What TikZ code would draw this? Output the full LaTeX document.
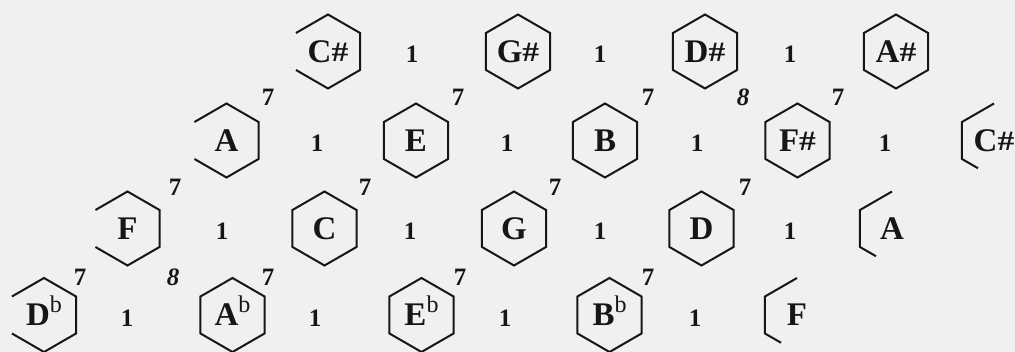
\documentclass[tikz,border=0pt]{standalone}
\usepackage{fontspec}
\setmainfont{Liberation Serif}
\usepackage{graphicx}
\definecolor{paper}{RGB}{240,240,238}
\definecolor{ink}{RGB}{22,22,22}
\newcommand\shp{\raisebox{0.5pt}{\fontsize{28}{28}\selectfont\scalebox{1.2}[1]{\#}}}
\newcommand\flt{\raisebox{13pt}{\fontsize{24}{24}\selectfont\mdseries b}}
\tikzset{
  hexline/.style={draw=ink, line width=2pt, line join=miter},
  note/.style={font=\fontsize{33}{33}\selectfont\bfseries, text=ink, inner sep=0pt, text height=21.8pt, text depth=0pt},
  num/.style={font=\fontsize{25}{25}\selectfont\bfseries, text=ink, inner sep=0pt, text height=16.9pt, text depth=0pt},
  numi/.style={num, font=\fontsize{25}{25}\selectfont\bfseries\itshape},
}
\begin{document}
\begin{tikzpicture}[x=1pt,y=1pt]
\useasboundingbox (0,0) rectangle (1015,352);
\fill[paper] (0,0) rectangle (1015,352);
% row 1
\node[note] (cs1) at (328,300.5) {C\shp};
\node[note] (gs)  at (518,300.5) {G\shp};
\node[note] (ds)  at (705,300.5) {D\shp};
\node[note] (as)  at (896,300.5) {A\shp};
% row 2
\node[note] (a1)  at (226.5,211.5) {A};
\node[note] (e)   at (416,211.5) {E};
\node[note] (b)   at (605,211.5) {B};
\node[note] (fs)  at (797.5,211.5) {F\shp};
\node[note] (cs2) at (994,211.5) {C\shp};
% row 3
\node[note] (f1)  at (127.5,123.5) {F};
\node[note] (c)   at (324.5,123.5) {C};
\node[note] (g)   at (514,123.5) {G};
\node[note] (d)   at (701.5,123.5) {D};
\node[note] (a2)  at (892,123.5) {A};
% row 4
\node[note] (db)  at (44,37) {D\flt};
\node[note] (ab)  at (232.5,37) {A\flt};
\node[note] (eb)  at (421.5,37) {E\flt};
\node[note] (bb)  at (609.5,37) {B\flt};
\node[note] (f2)  at (797,37) {F};
% hexagons
\foreach \n in {gs,ds,as,e,b,fs,c,g,d,ab,eb,bb}
  \draw[hexline, shift={(\n.center)}] (90:37) -- (150:37) -- (210:37) -- (270:37) -- (330:37) -- (30:37) -- cycle;
\foreach \n in {cs1,a1,f1,db}
  \draw[hexline, shift={(\n.center)}] (210:37) -- (270:37) -- (330:37) -- (30:37) -- (90:37) -- (150:37);
\foreach \n in {cs2,a2,f2}
  \draw[hexline, shift={(\n.center)}] (90:37) -- (150:37) -- (210:37) -- (-16,-27.75);
% ones
\node[num] (o11) at (412,297.5) {1};
\node[num] (o12) at (600,297.5) {1};
\node[num] (o13) at (790,297.5) {1};
\node[num] (o21) at (317,208.5) {1};
\node[num] (o22) at (507,208.5) {1};
\node[num] (o23) at (697,208.5) {1};
\node[num] (o24) at (885,208.5) {1};
\node[num] (o31) at (222,120.5) {1};
\node[num] (o32) at (410,120.5) {1};
\node[num] (o33) at (600,120.5) {1};
\node[num] (o34) at (790,120.5) {1};
\node[num] (o41) at (127,34) {1};
\node[num] (o42) at (315,34) {1};
\node[num] (o43) at (505,34) {1};
\node[num] (o44) at (695,34) {1};
% sevens and eights
\node[num] (s21) at (268,255) {7};
\node[num] (s22) at (458,255) {7};
\node[num] (s23) at (648,255) {7};
\node[numi] (e21) at (743,255) {8};
\node[num] (s24) at (838,255) {7};
\node[num] (s31) at (175,165) {7};
\node[num] (s32) at (365,165) {7};
\node[num] (s33) at (555,165) {7};
\node[num] (s34) at (745,165) {7};
\node[num] (s41) at (80,75) {7};
\node[numi] (e41) at (173,75) {8};
\node[num] (s42) at (268,75) {7};
\node[num] (s43) at (460,75) {7};
\node[num] (s44) at (648,75) {7};
\end{tikzpicture}
\end{document}
